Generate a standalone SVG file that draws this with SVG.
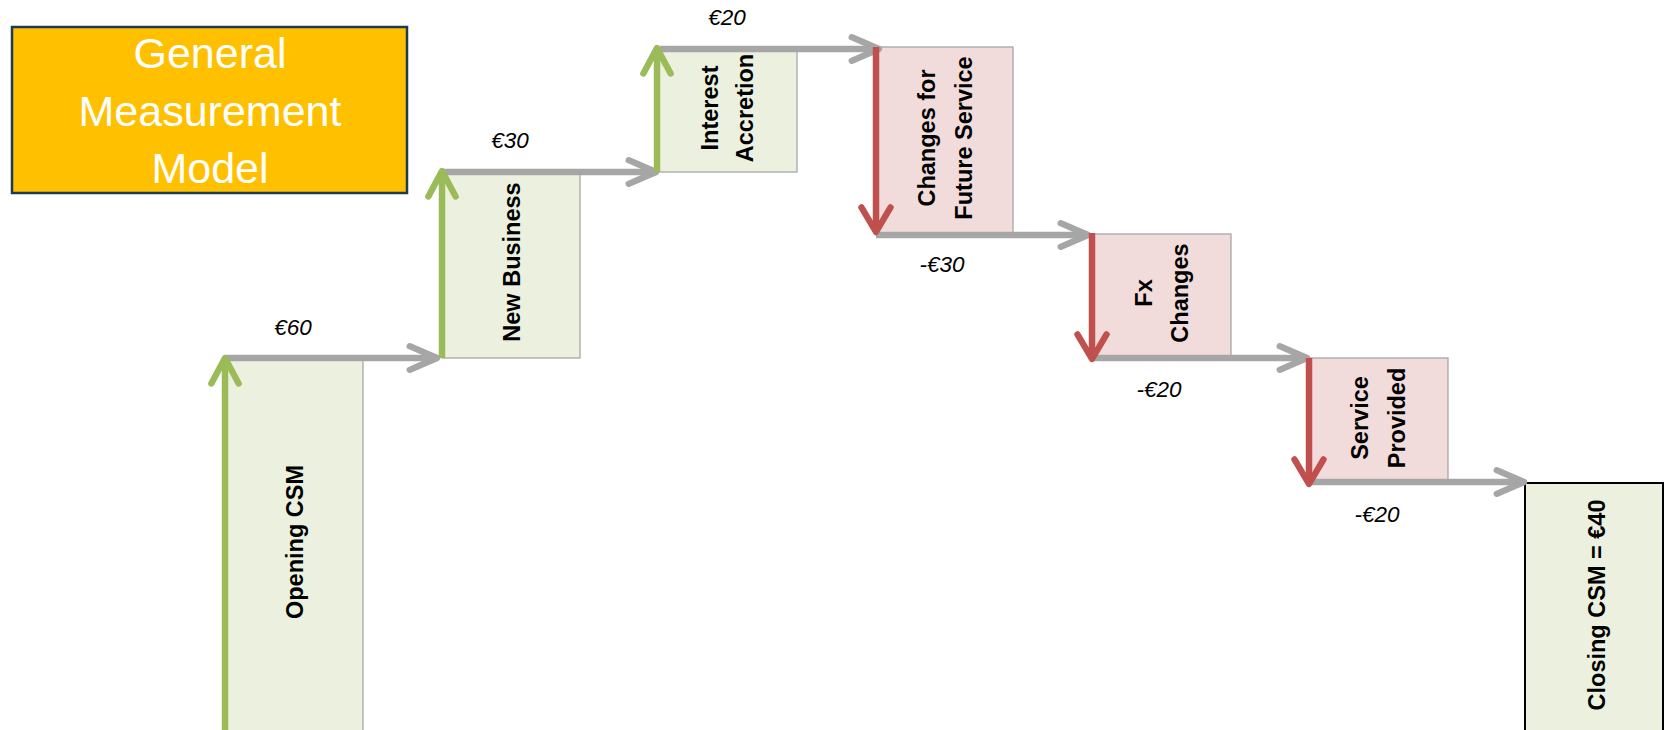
<svg xmlns="http://www.w3.org/2000/svg" width="1670" height="730" viewBox="0 0 1670 730">
<style>
.box{stroke:#A0A0A0;stroke-width:1.2}
.g{fill:#EBF1DE}
.p{fill:#F2DCDB}
.lbl{font-family:"Liberation Sans",Arial,sans-serif;font-weight:bold;font-size:23.5px;fill:#000;text-anchor:middle}
.val{font-family:"Liberation Sans",Arial,sans-serif;font-style:italic;font-size:22.5px;fill:#000;text-anchor:middle}
.title{font-family:"Liberation Sans",Arial,sans-serif;font-size:43px;fill:#fff;text-anchor:middle}
.gray{stroke:#A6A6A6;stroke-width:6.5;fill:none}
.grn{stroke:#9BBB59;stroke-width:6.5;fill:none}
.red{stroke:#C0504D;stroke-width:6.5;fill:none}
</style>
<defs>
<marker id="hg" markerUnits="userSpaceOnUse" orient="auto" refX="0" refY="0" markerWidth="40" markerHeight="40" viewBox="-40 -20 44 40" overflow="visible">
<path d="M-30,-13 L0,0 L-30,13" fill="none" stroke="#A6A6A6" stroke-width="7" stroke-linecap="round" stroke-linejoin="round"/>
</marker>
<marker id="hgr" markerUnits="userSpaceOnUse" orient="auto" refX="0" refY="0" markerWidth="40" markerHeight="40" viewBox="-40 -20 44 40" overflow="visible">
<path d="M-28,-15 L0,0 L-28,15" fill="none" stroke="#9BBB59" stroke-width="7" stroke-linecap="round" stroke-linejoin="round"/>
</marker>
<marker id="hr" markerUnits="userSpaceOnUse" orient="auto" refX="0" refY="0" markerWidth="40" markerHeight="40" viewBox="-40 -20 44 40" overflow="visible">
<path d="M-27,-16 L0,0 L-27,16" fill="none" stroke="#C0504D" stroke-width="7" stroke-linecap="round" stroke-linejoin="round"/>
</marker>
</defs>

<g id="title">
<rect x="12" y="27" width="395" height="166" fill="#FFC000" stroke="#1F3A4F" stroke-width="2.5"/>
<text class="title" x="210" y="68">General</text>
<text class="title" x="210" y="126">Measurement</text>
<text class="title" x="210" y="183">Model</text>
</g>

<g id="opening-csm">
<rect class="box g" x="225" y="358" width="138" height="380"/>
<text class="lbl" transform="translate(303,542) rotate(-90)">Opening CSM</text>
</g>
<g id="new-business">
<rect class="box g" x="442" y="172" width="138" height="186"/>
<text class="lbl" transform="translate(520,262) rotate(-90)">New Business</text>
</g>
<g id="interest-accretion">
<rect class="box g" x="657" y="49" width="140" height="123"/>
<text class="lbl" transform="translate(718,108) rotate(-90)">Interest</text>
<text class="lbl" transform="translate(753,108) rotate(-90)">Accretion</text>
</g>
<g id="changes-future-service">
<rect class="box p" x="876" y="47" width="137" height="188"/>
<text class="lbl" transform="translate(935,138) rotate(-90)">Changes for</text>
<text class="lbl" transform="translate(972,138) rotate(-90)">Future Service</text>
</g>
<g id="fx-changes">
<rect class="box p" x="1092" y="234" width="139" height="124"/>
<text class="lbl" transform="translate(1152,293) rotate(-90)">Fx</text>
<text class="lbl" transform="translate(1188,293) rotate(-90)">Changes</text>
</g>
<g id="service-provided">
<rect class="box p" x="1309" y="358" width="139" height="124"/>
<text class="lbl" transform="translate(1368,418) rotate(-90)">Service</text>
<text class="lbl" transform="translate(1405,418) rotate(-90)">Provided</text>
</g>
<g id="closing-csm">
<rect x="1525" y="483" width="138" height="260" fill="#EBF1DE" stroke="#000" stroke-width="2"/>
<text class="lbl" transform="translate(1605,605) rotate(-90)">Closing CSM = €40</text>
</g>

<g id="connectors">
<line class="gray" x1="225" y1="358" x2="437" y2="358" marker-end="url(#hg)"/>
<line class="gray" x1="442" y1="172" x2="656" y2="172" marker-end="url(#hg)"/>
<line class="gray" x1="660" y1="49" x2="879" y2="49" marker-end="url(#hg)"/>
<line class="gray" x1="876" y1="235" x2="1088" y2="235" marker-end="url(#hg)"/>
<line class="gray" x1="1092" y1="358" x2="1307" y2="358" marker-end="url(#hg)"/>
<line class="gray" x1="1309" y1="482" x2="1524" y2="482" marker-end="url(#hg)"/>
<line class="grn" x1="225" y1="735" x2="225" y2="358" marker-end="url(#hgr)"/>
<line class="grn" x1="442" y1="358" x2="442" y2="171" marker-end="url(#hgr)"/>
<line class="grn" x1="657" y1="172" x2="657" y2="48" marker-end="url(#hgr)"/>
<line class="red" x1="876" y1="47" x2="876" y2="232" marker-end="url(#hr)"/>
<line class="red" x1="1092" y1="233" x2="1092" y2="359" marker-end="url(#hr)"/>
<line class="red" x1="1309" y1="358" x2="1309" y2="484" marker-end="url(#hr)"/>
</g>

<g id="values">
<text class="val" x="293" y="335">€60</text>
<text class="val" x="510" y="148">€30</text>
<text class="val" x="727" y="25">€20</text>
<text class="val" x="942" y="272">-€30</text>
<text class="val" x="1159" y="397">-€20</text>
<text class="val" x="1377" y="522">-€20</text>
</g>
</svg>
